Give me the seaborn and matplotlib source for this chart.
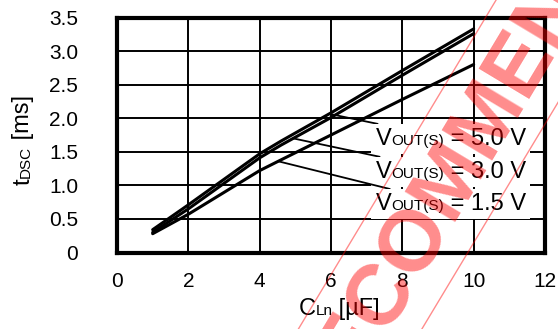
import numpy as np
import pandas as pd
import matplotlib
matplotlib.use("Agg")
import matplotlib.pyplot as plt
import seaborn as sns
from matplotlib.offsetbox import TextArea, HPacker, AnnotationBbox

# Discharge time tDSC [ms] versus output capacitance CLn [uF]
cap_uF = [1, 2, 4, 4.6, 6, 8, 10]
t_vout_50 = [0.34, 0.71, 1.47, 1.66, 2.08, 2.71, 3.33]
t_vout_30 = [0.30, 0.65, 1.41, 1.60, 2.01, 2.64, 3.26]
t_vout_15 = [0.28, 0.57, 1.22, 1.38, 1.75, 2.28, 2.80]
vout_names = ["5.0 V", "3.0 V", "1.5 V"]

x_ticks = [0, 2, 4, 6, 8, 10, 12]
y_ticks = [0, 0.5, 1.0, 1.5, 2.0, 2.5, 3.0, 3.5]
y_tick_labels = ["0", "0.5", "1.0", "1.5", "2.0", "2.5", "3.0", "3.5"]

df = pd.concat([
    pd.DataFrame({"C": cap_uF, "t": vals, "Vout": name})
    for name, vals in zip(vout_names, [t_vout_50, t_vout_30, t_vout_15])
])

sns.set_style("white")
plt.rcParams["font.family"] = ["Liberation Sans", "DejaVu Sans"]

fig = plt.figure(figsize=(5.58, 3.29), dpi=100)
ax = fig.add_axes([0.2097, 0.2325, 0.767, 0.7143])

sns.lineplot(data=df, x="C", y="t", hue="Vout", palette=["black"] * 3,
             linewidth=2.2, legend=False, sort=False, estimator=None, ax=ax)

ax.set_xlim(0, 12)
ax.set_ylim(0, 3.5)
ax.set_xticks(x_ticks)
ax.set_xticklabels([str(v) for v in x_ticks])
ax.set_yticks(y_ticks)
ax.set_yticklabels(y_tick_labels)
ax.grid(True, color="black", linewidth=1.4)
ax.set_axisbelow(True)
for sp in ax.spines.values():
    sp.set_visible(True)
    sp.set_color("black")
    sp.set_linewidth(3)
ax.tick_params(axis="both", length=0, labelsize=15, colors="black")
ax.tick_params(axis="y", pad=28)
ax.tick_params(axis="x", pad=14)
ax.set_xlabel("")
ax.set_ylabel("")


def small_caps_label(big, small, rest, size_big, size_small):
    parts = [TextArea(big, textprops=dict(fontsize=size_big, color="black")),
             TextArea(small, textprops=dict(fontsize=size_small, color="black")),
             TextArea(rest, textprops=dict(fontsize=size_big, color="black"))]
    return HPacker(children=parts, align="baseline", pad=0, sep=0)


# y-axis title, written upward piece by piece on a shared baseline
renderer = fig.canvas.get_renderer()
base_x, run_y = 29.5, 329 - 185
for piece, size in [("t", 17), ("DSC", 11), (" [ms]", 17)]:
    txt = fig.text(base_x / 558, run_y / 329, piece, fontsize=size,
                   rotation=90, rotation_mode="anchor",
                   ha="left", va="baseline", color="black")
    ext = txt.get_window_extent(renderer)
    run_y += ext.height

# x-axis title
xlab = AnnotationBbox(small_caps_label("C", "Ln", " [µF]", 17, 11),
                      (0.519, -0.24), xycoords="axes fraction",
                      box_alignment=(0.5, 0.5), frameon=False,
                      annotation_clip=False)
ax.add_artist(xlab)

# curve labels with leader lines
series_by_name = dict(zip(vout_names, [t_vout_50, t_vout_30, t_vout_15]))
leader_x = {"5.0 V": 5.95, "3.0 V": 4.94, "1.5 V": 4.52}
label_y = {"5.0 V": 1.69, "3.0 V": 1.20, "1.5 V": 0.72}
for name in vout_names:
    lx = leader_x[name]
    ly = float(np.interp(lx, cap_uF, series_by_name[name]))
    box = small_caps_label("V", "OUT(S)", " = " + name, 17, 11)
    ab = AnnotationBbox(box, (lx, ly), xybox=(7.25, label_y[name]),
                        xycoords="data", boxcoords="data",
                        box_alignment=(0, 0.5), frameon=True, pad=0.3,
                        bboxprops=dict(facecolor="white", edgecolor="none"),
                        arrowprops=dict(arrowstyle="-", color="black", lw=1.3,
                                        shrinkA=0, shrinkB=0))
    ab.zorder = 4
    ax.add_artist(ab)

# watermark stamp
fig.text(0.864, 0.617, "RECOMMENDED", rotation=59, rotation_mode="anchor",
         ha="center", va="center", fontsize=62, fontweight="bold",
         color="red", alpha=0.45, zorder=10,
         bbox=dict(boxstyle="square,pad=0.15", facecolor="none",
                   edgecolor=(1, 0, 0, 0.45), linewidth=1))

fig.savefig("out.png", dpi=100)
